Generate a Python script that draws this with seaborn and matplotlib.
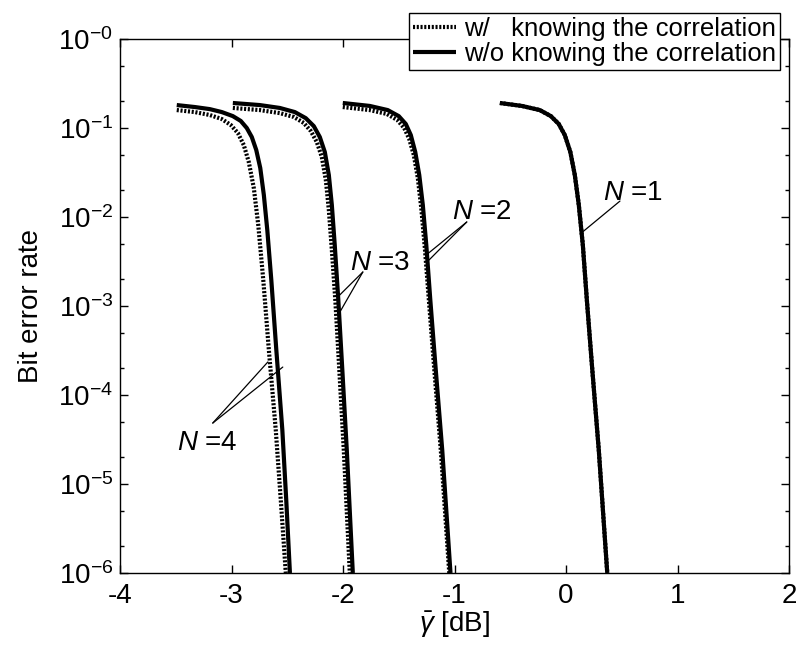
import numpy as np
import pandas as pd
import matplotlib.pyplot as plt
import matplotlib.ticker as ticker
import seaborn as sns

# values (gamma in dB, bit error rate)
n1_snr = [-0.593, -0.396, -0.235, -0.136, -0.065, -0.011, 0.039, 0.079, 0.115, 0.151, 0.187, 0.236, 0.294, 0.370]
n1_ber = [0.191, 0.177, 0.159, 0.136, 0.111, 0.0834, 0.0537, 0.0296, 0.0136, 4.84e-3, 1.17e-3, 1.91e-4, 2.41e-5, 1e-6]

n2_snr_wo = [-2.002, -1.760, -1.599, -1.500, -1.437, -1.392, -1.352, -1.316, -1.284, -1.253, -1.217, -1.168, -1.110, -1.036]
n2_ber_wo = [0.191, 0.177, 0.159, 0.136, 0.111, 0.0834, 0.0537, 0.0296, 0.0136, 4.84e-3, 1.17e-3, 1.91e-4, 2.41e-5, 1e-6]
n2_snr_w = [-2.002, -1.760, -1.608, -1.513, -1.451, -1.406, -1.365, -1.329, -1.298, -1.266, -1.230, -1.181, -1.123, -1.047]
n2_ber_w = [0.172, 0.159, 0.144, 0.123, 0.100, 0.0752, 0.0498, 0.0274, 0.0126, 4.49e-3, 1.17e-3, 1.91e-4, 2.41e-5, 1e-6]

n3_snr_wo = [-2.988, -2.746, -2.567, -2.432, -2.334, -2.262, -2.208, -2.163, -2.127, -2.100, -2.074, -2.042, -2.006, -1.966, -1.912]
n3_ber_wo = [0.191, 0.181, 0.168, 0.151, 0.129, 0.105, 0.0792, 0.0537, 0.0296, 0.0136, 4.84e-3, 1.17e-3, 1.91e-4, 2.41e-5, 1e-6]
n3_snr_w = [-2.988, -2.746, -2.567, -2.441, -2.352, -2.289, -2.235, -2.190, -2.154, -2.127, -2.100, -2.069, -2.033, -1.993, -1.939]
n3_ber_w = [0.168, 0.159, 0.147, 0.133, 0.114, 0.0925, 0.0696, 0.0472, 0.0260, 0.0120, 4.26e-3, 1.17e-3, 1.91e-4, 2.41e-5, 1e-6]

n4_snr_wo = [-3.491, -3.329, -3.195, -3.087, -2.988, -2.917, -2.863, -2.818, -2.778, -2.742, -2.710, -2.679, -2.643, -2.598, -2.544, -2.509, -2.476]
n4_ber_wo = [0.181, 0.172, 0.163, 0.151, 0.136, 0.120, 0.100, 0.0792, 0.0566, 0.0355, 0.0177, 7.14e-3, 1.96e-3, 3.2e-4, 4.04e-5, 6.6e-6, 1e-6]
n4_snr_w = [-3.491, -3.329, -3.195, -3.087, -3.006, -2.943, -2.890, -2.845, -2.800, -2.760, -2.715, -2.665, -2.603, -2.558, -2.513]
n4_ber_w = [0.159, 0.151, 0.140, 0.126, 0.108, 0.0879, 0.0644, 0.0415, 0.0212, 8.13e-3, 1.96e-3, 3.2e-4, 4.04e-5, 6.6e-6, 1e-6]

x_ticks = [-4, -3, -2, -1, 0, 1, 2]
y_ticks = [1e-6, 1e-5, 1e-4, 1e-3, 1e-2, 1e-1, 1e0]
y_tick_labels = ['10$^{-6}$', '10$^{-5}$', '10$^{-4}$', '10$^{-3}$', '10$^{-2}$', '10$^{-1}$', '10$^{-0}$']

label_w = "w/   knowing the correlation"
label_wo = "w/o knowing the correlation"

# label text anchors and leader line end points (data coords)
annot_text = {
    "1": (0.331, 0.0155),
    "2": (-1.024, 9.5e-3),
    "3": (-1.939, 2.54e-3),
    "4": (-3.491, 2.41e-5),
}
annot_lines = {
    "1": [((0.484, 0.0151), (0.148, 6.78e-3))],
    "2": [((-0.890, 8.79e-3), (-1.232, 3.94e-3)), ((-0.890, 8.79e-3), (-1.228, 3.29e-3))],
    "3": [((-1.822, 2.41e-3), (-2.04, 1.29e-3)), ((-1.822, 2.41e-3), (-2.033, 8.34e-4))],
    "4": [((-3.168, 4.84e-5), (-2.674, 2.35e-4)), ((-3.168, 4.84e-5), (-2.540, 2.06e-4))],
}

sns.set_theme(style="ticks")
plt.rcParams['font.family'] = ['Liberation Sans', 'DejaVu Sans']
plt.rcParams['mathtext.fontset'] = 'custom'
plt.rcParams['mathtext.rm'] = 'Liberation Sans'
plt.rcParams['mathtext.it'] = 'Liberation Sans:italic'
plt.rcParams['mathtext.bf'] = 'Liberation Sans:bold'
plt.rcParams['axes.unicode_minus'] = False
plt.rcParams['text.color'] = 'black'
plt.rcParams['axes.labelcolor'] = 'black'
plt.rcParams['xtick.color'] = 'black'
plt.rcParams['ytick.color'] = 'black'

FS = 20

fig = plt.figure(figsize=(7.97, 6.5), dpi=100)
ax = fig.add_axes([120 / 797, 1 - 573 / 650, 669 / 797, 534 / 650])

dotted = dict(color='black', lw=3.0, dashes=(0.5, 0.4), dash_capstyle='butt')
solid = dict(color='black', lw=3.0, solid_capstyle='butt')

w_curves = [(n4_snr_w, n4_ber_w), (n3_snr_w, n3_ber_w), (n2_snr_w, n2_ber_w), (n1_snr, n1_ber)]
wo_curves = [(n4_snr_wo, n4_ber_wo), (n3_snr_wo, n3_ber_wo), (n2_snr_wo, n2_ber_wo), (n1_snr, n1_ber)]

for i, (xs, ys) in enumerate(w_curves):
    df = pd.DataFrame({"snr": xs, "ber": ys})
    sns.lineplot(data=df, x="snr", y="ber", ax=ax, sort=False, estimator=None,
                 label=label_w if i == 0 else None, **dotted)
for i, (xs, ys) in enumerate(wo_curves):
    df = pd.DataFrame({"snr": xs, "ber": ys})
    sns.lineplot(data=df, x="snr", y="ber", ax=ax, sort=False, estimator=None,
                 label=label_wo if i == 0 else None, **solid)

for key, (tx, ty) in annot_text.items():
    ax.text(tx, ty, r'$N$ =' + key, fontsize=FS, ha='left', va='baseline')
    for (x0, y0), (x1, y1) in annot_lines[key]:
        ax.plot([x0, x1], [y0, y1], color='black', lw=0.9)

ax.set_yscale('log')
ax.set_xlim(-4, 2)
ax.set_ylim(1e-6, 1)
ax.set_xticks(x_ticks)
ax.set_xticklabels([str(t) for t in x_ticks])
ax.set_yticks(y_ticks)
ax.set_yticklabels(y_tick_labels)
ax.yaxis.set_minor_locator(ticker.LogLocator(base=10, subs=(2.0, 5.0)))
ax.yaxis.set_minor_formatter(ticker.NullFormatter())

ax.tick_params(which='both', direction='in', top=True, right=True,
               labelsize=FS, width=1)
ax.tick_params(which='major', length=6)
ax.tick_params(which='minor', length=3)
ax.tick_params(axis='x', pad=7)
ax.tick_params(axis='y', pad=5)
for sp in ax.spines.values():
    sp.set_color('black')
    sp.set_linewidth(1.0)

ax.set_xlabel(r'$\bar{\gamma}$ [dB]', fontsize=FS, labelpad=1)
ax.set_ylabel('Bit error rate', fontsize=FS, labelpad=10)

leg = ax.legend(loc='upper right', bbox_to_anchor=(780 / 797, 1 - 13 / 650),
                bbox_transform=fig.transFigure, fontsize=18.5, frameon=True,
                fancybox=False, framealpha=1, edgecolor='black',
                handlelength=1.7, handletextpad=0.3, labelspacing=0.05,
                borderpad=0.15, borderaxespad=0)
leg.get_frame().set_linewidth(1.0)

fig.savefig("out.png", dpi=100)
